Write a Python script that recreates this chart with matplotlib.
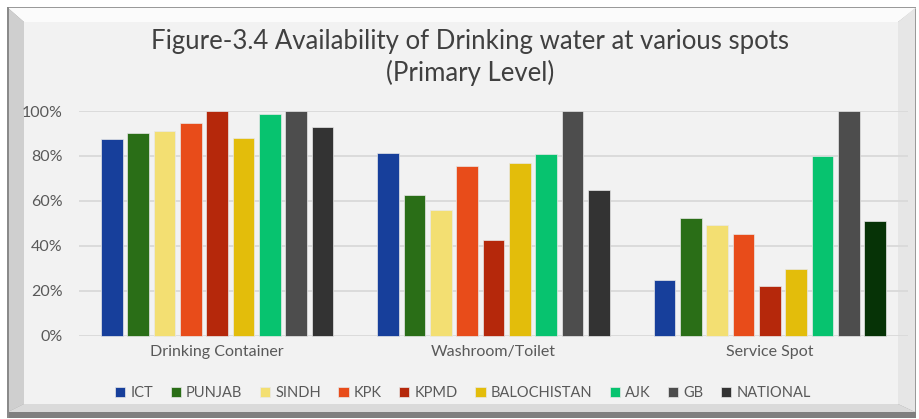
import numpy as np
import matplotlib.pyplot as plt
from matplotlib.patches import Polygon
from matplotlib.ticker import PercentFormatter

categories = ["Drinking Container", "Washroom/Toilet", "Service Spot"]
regions = ["ICT", "PUNJAB", "SINDH", "KPK", "KPMD", "BALOCHISTAN", "AJK", "GB", "NATIONAL"]

ict = [87.5, 81.2, 25.0]
punjab = [90.0, 62.5, 52.2]
sindh = [91.2, 56.0, 49.3]
kpk = [94.5, 75.7, 45.4]
kpmd = [100.0, 42.5, 22.3]
balochistan = [88.0, 77.0, 29.6]
ajk = [98.5, 80.7, 79.8]
gb = [100.0, 100.0, 100.0]
national = [92.7, 64.9, 51.1]

series = [ict, punjab, sindh, kpk, kpmd, balochistan, ajk, gb, national]
colors = ["#173f9b", "#2a6e17", "#f3df72", "#e84c1a", "#b5280b",
          "#e3bd0b", "#07c36f", "#4d4d4d", "#333333"]

W, H = 920, 419
fig = plt.figure(figsize=(W / 100, H / 100), dpi=100)
fig.patch.set_facecolor("white")


def px(x, y):
    return (x / W, 1 - y / H)


def poly(points, color):
    fig.patches.append(Polygon([px(*p) for p in points], closed=True,
                               transform=fig.transFigure, facecolor=color,
                               edgecolor="none", zorder=-10))


# beveled frame
o = (7, 7, 916, 418)     # outer
i = (24, 22, 898, 404)   # inner face
poly([(o[0], o[1]), (o[2], o[1]), (o[2], o[3]), (o[0], o[3])], "#9a9a9a")
poly([(o[0] + 1, o[1] + 1), (o[2], o[1] + 1), (i[2], i[1]), (i[0], i[1])], "#fbfbfb")
poly([(o[0] + 1, o[1] + 1), (i[0], i[1]), (i[0], i[3]), (o[0] + 1, o[3] - 6)], "#cfcfcf")
poly([(o[2] - 1, o[1] + 1), (o[2] - 1, o[3] - 6), (i[2], i[3]), (i[2], i[1])], "#e6e6e6")
poly([(o[0] + 1, o[3] - 6), (i[0], i[3]), (i[2], i[3]), (o[2] - 1, o[3] - 6)], "#dadada")
poly([(o[0], o[3] - 6), (o[2], o[3] - 6), (o[2], o[3]), (o[0], o[3])], "#7f7f7f")
poly([(i[0], i[1]), (i[2], i[1]), (i[2], i[3]), (i[0], i[3])], "#f2f2f2")
poly([(o[0], o[1]), (o[0] + 2, o[1]), (o[0] + 2, o[3]), (o[0], o[3])], "#8a8a8a")

ax = fig.add_axes([79 / W, 1 - 335.7 / H, (908 - 79) / W, (335.7 - 111) / H])
ax.set_facecolor("none")

x = np.arange(len(categories))
slot = 0.0953
bw = 0.078
for k, (vals, c) in enumerate(zip(series, colors)):
    off = (k - (len(series) - 1) / 2) * slot
    bars = ax.bar(x + off, vals, width=bw, color=c, label=regions[k],
                  edgecolor="#e8e8e8", linewidth=0.5, zorder=3, clip_on=False)
    if regions[k] == "NATIONAL":
        bars[2].set_facecolor("#063306")

ax.set_xlim(-0.5, len(categories) - 0.5)
ax.set_ylim(0, 100)
ax.yaxis.set_major_formatter(PercentFormatter(decimals=0))
ax.set_yticks(np.arange(0, 101, 20))
ax.grid(axis="y", color="#d9d9d9", linewidth=1.3, zorder=0)
for s in ax.spines.values():
    s.set_visible(False)
ax.tick_params(length=0, labelsize=11.5, colors="#595959")
ax.tick_params(axis="y", pad=12)
ax.tick_params(axis="x", pad=7)
ax.set_xticks(x)
ax.set_xticklabels(categories)
for t in ax.get_xticklabels() + ax.get_yticklabels():
    t.set_fontfamily("Lato")

fig.text(470 / W, 1 - 42 / H, "Figure-3.4 Availability of Drinking water at various spots",
         ha="center", va="center", fontsize=18.5, color="#404040", family="Lato")
fig.text(470 / W, 1 - 73 / H, "(Primary Level)",
         ha="center", va="center", fontsize=18.5, color="#404040", family="Lato")

handles, labels = ax.get_legend_handles_labels()
leg = fig.legend(handles, labels, loc="center", bbox_to_anchor=(463 / W, 1 - 393 / H),
                 ncol=9, frameon=False, handlelength=0.7, handleheight=0.7,
                 handletextpad=0.35, columnspacing=1.2,
                 prop={"family": "Lato", "size": 10.5})
for t in leg.get_texts():
    t.set_color("#595959")

fig.savefig("out.png", dpi=100)
